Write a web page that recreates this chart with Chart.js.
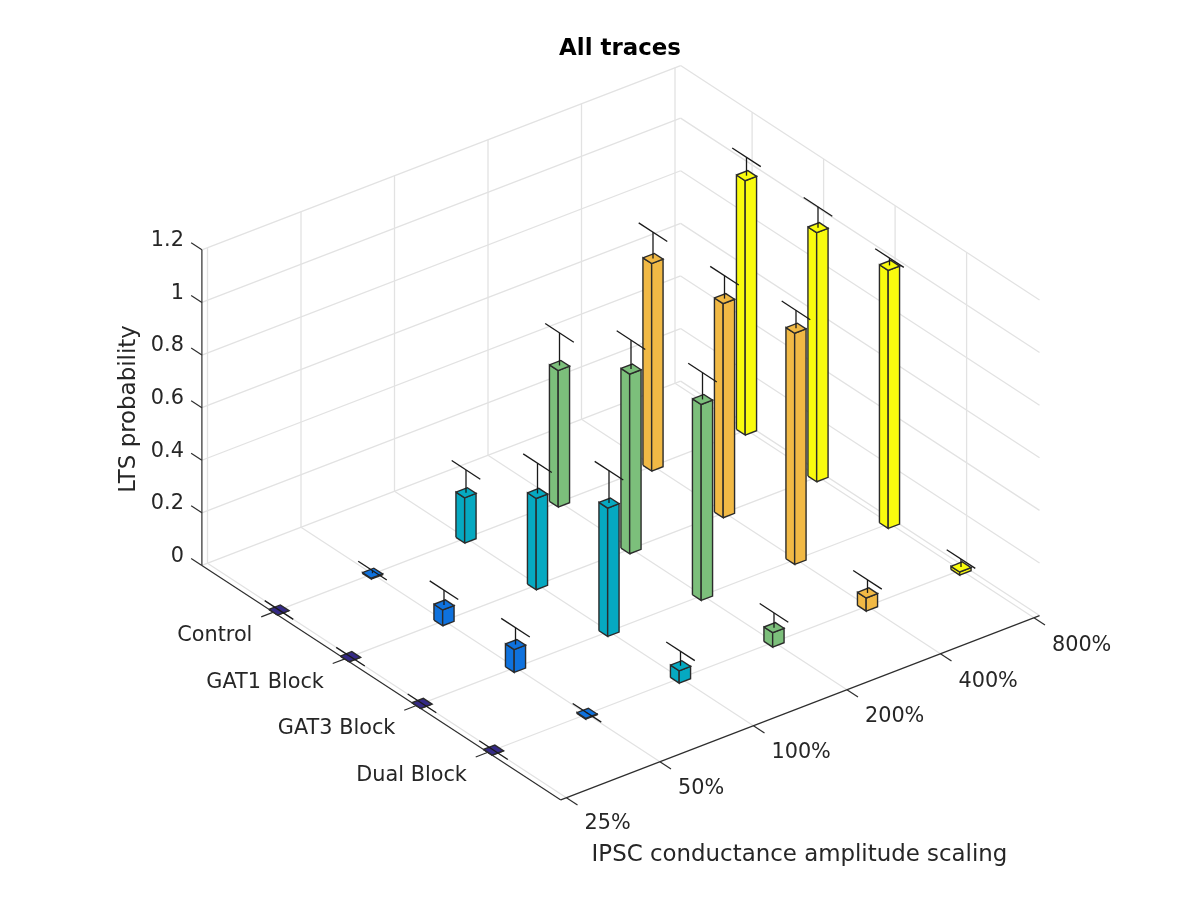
<!DOCTYPE html>
<html>
<head>
<meta charset="utf-8">
<title>All traces</title>
<script src="https://cdn.jsdelivr.net/npm/chart.js@4"></script>
<style>
    html, body { margin: 0; padding: 0; background: #fff; }
    #wrap { width: 1200px; height: 900px; }
</style>
</head>
<body>
<div id="wrap"><canvas id="chart"></canvas></div>
<script>
// Categories and ticks
const scaleLabels = ['25%', '50%', '100%', '200%', '400%', '800%'];
const groupLabels = ['Control', 'GAT1 Block', 'GAT3 Block', 'Dual Block'];
const zTicks = [0, 0.2, 0.4, 0.6, 0.8, 1, 1.2];

// LTS probability per condition, one value per scaling
const control = [0, 0.003, 0.172, 0.519, 0.789, 0.967];
const gat1 = [0, 0.06, 0.347, 0.683, 0.814, 0.947];
const gat3 = [0, 0.087, 0.488, 0.745, 0.879, 0.981];
const dual = [0, 0.003, 0.047, 0.055, 0.05, 0.012];

// Upper error per condition
const controlErr = [0, 0.01, 0.087, 0.124, 0.1, 0.07];
const gat1Err = [0, 0.056, 0.115, 0.11, 0.087, 0.079];
const gat3Err = [0, 0.064, 0.123, 0.102, 0.068, 0.028];
const dualErr = [0, 0.002, 0.055, 0.056, 0.05, 0.03];

const barColors = ['#352a87', '#0f72de', '#06a9c1', '#7cbf7b', '#f1b945', '#f9fb0e'];

const values = [control, gat1, gat3, dual];
const errors = [controlErr, gat1Err, gat3Err, dualErr];

// Orthographic view of the 3D box: group g, scaling s, height z -> chart units
const view = {
    ox: 279, oy: 610,
    gx: 71.5, gy: 46.7,
    sx: 93.5, sy: -36,
    zy: -263
};
const gLim = [0, 5.02];
const sLim = [0.94, 6.06];
const barWidth = 0.122;
const capWidth = 0.4;

function project(g, s, z) {
    return {
        x: view.ox + (g - 1) * view.gx + (s - 1) * view.sx,
        y: view.oy + (g - 1) * view.gy + (s - 1) * view.sy + z * view.zy
    };
}

const datasets = [];

function addLine(points, color, width) {
    datasets.push({
        data: points,
        showLine: true,
        borderColor: color,
        borderWidth: width,
        pointRadius: 0,
        fill: false,
        clip: false
    });
}

function addFace(points, color) {
    datasets.push({
        data: points.concat([points[0]]),
        showLine: true,
        borderColor: '#2b2b2b',
        borderWidth: 1.4,
        backgroundColor: color,
        pointRadius: 0,
        fill: 'shape',
        clip: false
    });
}

const gridColor = '#e2e2e2';
const axisColor = '#2e2e2e';
const zTop = zTicks[zTicks.length - 1];

// walls and floor
zTicks.forEach(z => {
    addLine([project(gLim[0], sLim[0], z), project(gLim[0], sLim[1], z)], gridColor, 1.3);
    addLine([project(gLim[0], sLim[1], z), project(gLim[1], sLim[1], z)], gridColor, 1.3);
});
scaleLabels.forEach((label, i) => {
    addLine([project(gLim[0], i + 1, 0), project(gLim[1], i + 1, 0)], gridColor, 1.3);
    addLine([project(gLim[0], i + 1, 0), project(gLim[0], i + 1, zTop)], gridColor, 1.3);
});
groupLabels.forEach((label, i) => {
    addLine([project(i + 1, sLim[0], 0), project(i + 1, sLim[1], 0)], gridColor, 1.3);
    addLine([project(i + 1, sLim[1], 0), project(i + 1, sLim[1], zTop)], gridColor, 1.3);
});

// axes and tick marks
addLine([project(gLim[0], sLim[0], 0), project(gLim[0], sLim[0], zTop)], axisColor, 1.2);
addLine([project(gLim[0], sLim[0], 0), project(gLim[1], sLim[0], 0)], axisColor, 1.2);
addLine([project(gLim[1], sLim[0], 0), project(gLim[1], sLim[1], 0)], axisColor, 1.2);
zTicks.forEach(z => {
    addLine([project(gLim[0], sLim[0], z), project(gLim[0] - 0.15, sLim[0], z)], axisColor, 1.2);
});
groupLabels.forEach((label, i) => {
    addLine([project(i + 1, sLim[0], 0), project(i + 1, sLim[0] - 0.13, 0)], axisColor, 1.2);
});
scaleLabels.forEach((label, i) => {
    addLine([project(gLim[1], i + 1, 0), project(gLim[1] + 0.155, i + 1, 0)], axisColor, 1.2);
});

// bars back to front so nearer ones cover farther ones
const barOrder = [];
groupLabels.forEach((label, g) => {
    scaleLabels.forEach((l, s) => barOrder.push({ g: g, s: s }));
});
barOrder.sort((a, b) => (a.g - a.s) - (b.g - b.s));

barOrder.forEach(({ g, s }) => {
    const gc = g + 1;
    const sc = s + 1;
    const h = values[g][s];
    const top = h + errors[g][s];
    const d = barWidth / 2;
    const color = barColors[s];

    // side faces, then the lid
    addFace([project(gc - d, sc - d, 0), project(gc + d, sc - d, 0), project(gc + d, sc - d, h), project(gc - d, sc - d, h)], color);
    addFace([project(gc + d, sc - d, 0), project(gc + d, sc + d, 0), project(gc + d, sc + d, h), project(gc + d, sc - d, h)], color);
    addFace([project(gc - d, sc - d, h), project(gc + d, sc - d, h), project(gc + d, sc + d, h), project(gc - d, sc + d, h)], color);

    // error bar with its cap
    addLine([project(gc, sc, h), project(gc, sc, top)], '#1a1a1a', 1.3);
    addLine([project(gc - capWidth / 2, sc, top), project(gc + capWidth / 2, sc, top)], '#1a1a1a', 1.3);
});

// first dataset is painted last in Chart.js, so flip the list
datasets.reverse();

const textColor = '#262626';
const tickFont = '20.8px "DejaVu Sans"';
const labelFont = '22.9px "DejaVu Sans"';

// tick labels and axis titles follow the projected axes
const axisText = {
    id: 'axisText',
    afterDraw(chart) {
        const ctx = chart.ctx;
        const xs = chart.scales.x;
        const ys = chart.scales.y;
        const px = p => ({ x: xs.getPixelForValue(p.x), y: ys.getPixelForValue(p.y) });
        ctx.save();
        ctx.fillStyle = textColor;
        ctx.textBaseline = 'middle';

        ctx.font = tickFont;
        ctx.textAlign = 'right';
        zTicks.forEach(z => {
            const p = px(project(gLim[0], sLim[0], z));
            ctx.fillText(String(z), p.x - 18, p.y - 9);
        });
        groupLabels.forEach((label, i) => {
            const p = px(project(i + 1, sLim[0], 0));
            ctx.fillText(label, p.x - 21, p.y + 23.5);
        });
        ctx.textAlign = 'left';
        scaleLabels.forEach((label, i) => {
            const p = px(project(gLim[1], i + 1, 0));
            ctx.fillText(label, p.x + 18, p.y + 26 + i * 0.4);
        });

        ctx.font = labelFont;
        ctx.textAlign = 'center';
        ctx.fillText('IPSC conductance amplitude scaling', xs.getPixelForValue(799.5), ys.getPixelForValue(855));
        ctx.translate(xs.getPixelForValue(129), ys.getPixelForValue(409));
        ctx.rotate(-Math.PI / 2);
        ctx.fillText('LTS probability', 0, 0);
        ctx.restore();
    }
};

new Chart(document.getElementById('chart'), {
    type: 'scatter',
    data: { datasets: datasets },
    options: {
        responsive: true,
        maintainAspectRatio: false,
        animation: false,
        layout: { padding: { left: 40 } },
        scales: {
            x: { type: 'linear', display: false, min: 40, max: 1200 },
            y: { type: 'linear', display: false, min: 63, max: 900, reverse: true }
        },
        plugins: {
            legend: { display: false },
            tooltip: { enabled: false },
            title: {
                display: true,
                text: 'All traces',
                color: '#000000',
                font: { family: '"DejaVu Sans"', size: 22.9, weight: 'bold', lineHeight: 1.2 },
                padding: { top: 35, bottom: 0.52 }
            }
        }
    },
    plugins: [axisText]
});
</script>
</body>
</html>
